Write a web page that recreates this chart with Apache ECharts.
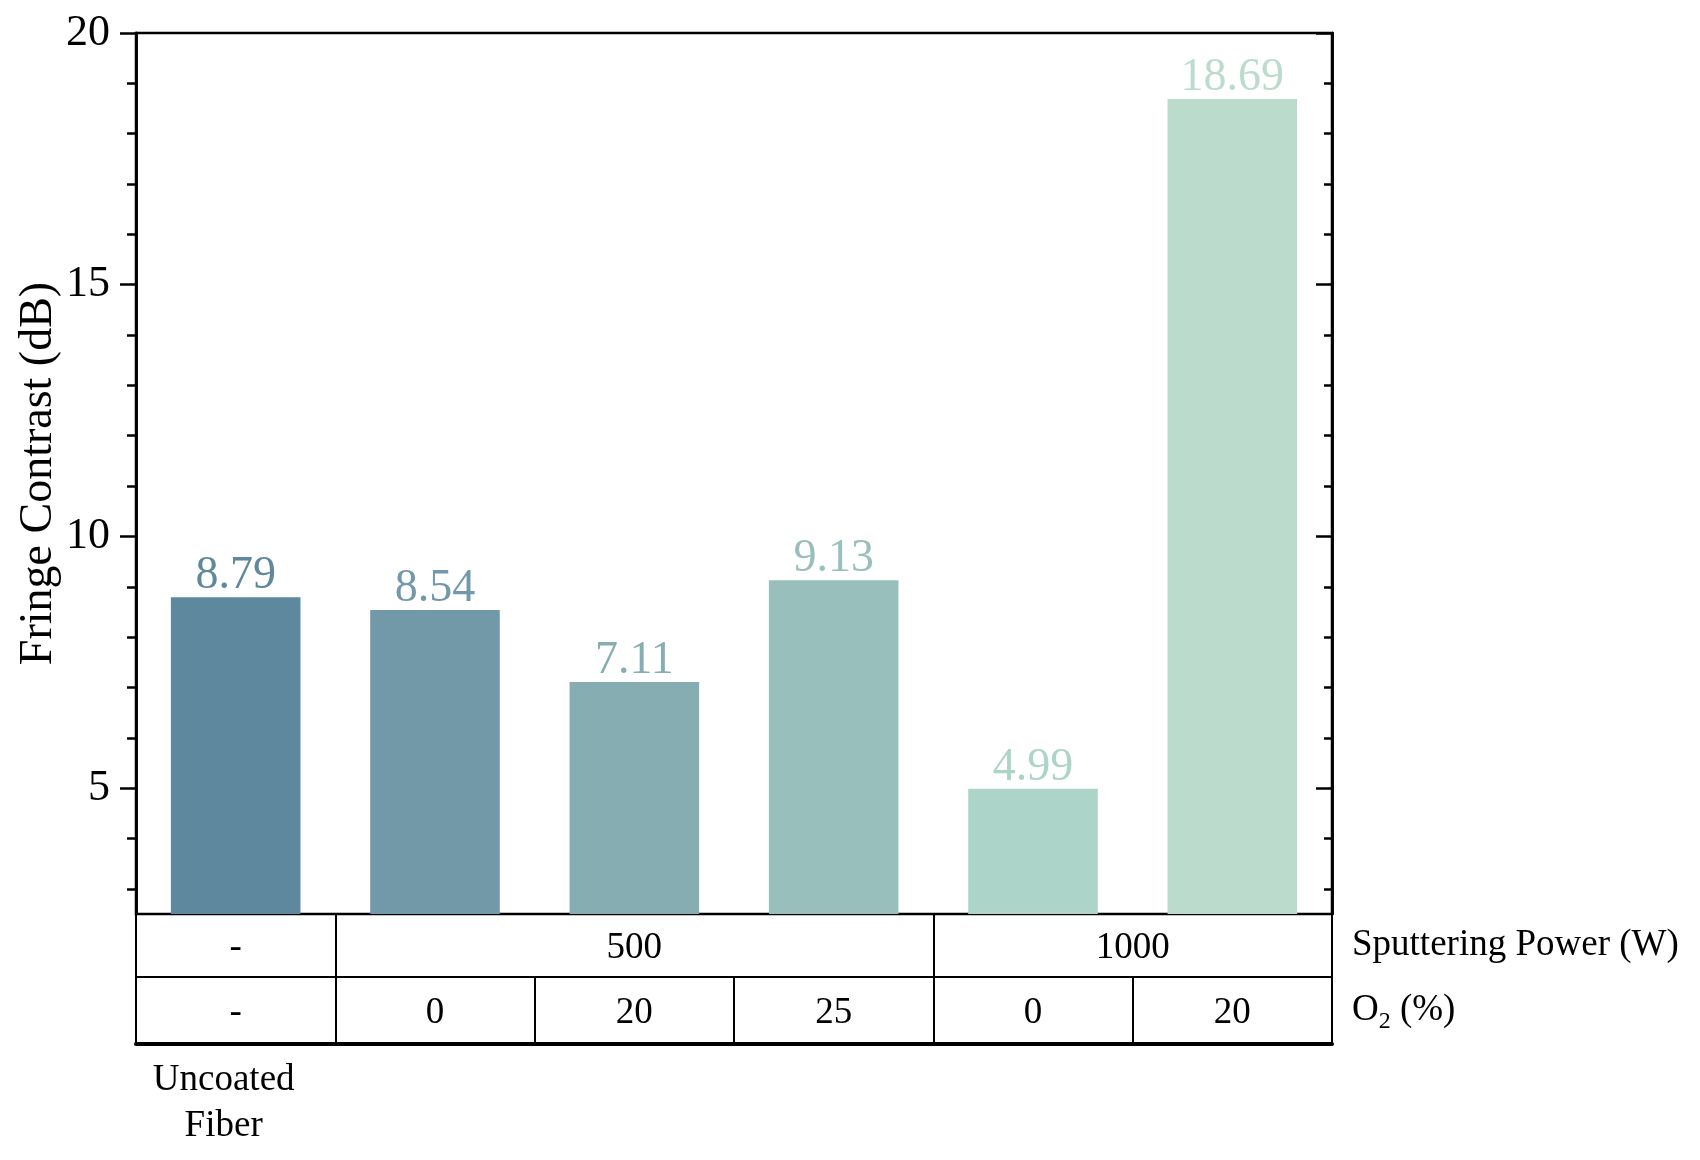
<!DOCTYPE html>
<html>
<head>
<meta charset="utf-8">
<script src="https://cdn.jsdelivr.net/npm/echarts@6/dist/echarts.min.js"></script>
<style>
  html, body { margin: 0; padding: 0; background: #fff; }
  #chart { width: 1700px; height: 1160px; }
</style>
</head>
<body>
<div id="chart"></div>
<script>
// ---- data ----
const categories = ['Uncoated Fiber', '500 W / 0 %', '500 W / 20 %', '500 W / 25 %', '1000 W / 0 %', '1000 W / 20 %'];
const xTickLabels = ['Uncoated\nFiber', '', '', '', '', ''];
const fringeContrast = [8.79, 8.54, 7.11, 9.13, 4.99, 18.69];
const barColors = ['#5e889d', '#7199a8', '#86adb1', '#99bfbc', '#add4c8', '#bbdccd'];
const powerLabels = ['-', '500', '1000'];
const powerSpans = [1, 3, 2];
const o2Labels = ['-', '0', '20', '25', '0', '20'];
const o2Spans = [1, 1, 1, 1, 1, 1];
const yMajorTicks = [5, 10, 15, 20];
const yMinorTicks = [3, 4, 6, 7, 8, 9, 11, 12, 13, 14, 16, 17, 18, 19];
const yMin = 2.5, yMax = 20;

const FONT = "'Liberation Serif', 'Times New Roman', serif";

function cells(labels, spans) {
  const bounds = [0], centers = [], map = {};
  let acc = 0;
  spans.forEach((s, i) => {
    const c = acc + s / 2;
    centers.push(c);
    map[c] = labels[i];
    acc += s;
    bounds.push(acc);
  });
  return { bounds, centers, map };
}
const powerCells = cells(powerLabels, powerSpans);
const o2Cells = cells(o2Labels, o2Spans);

const chart = echarts.init(document.getElementById('chart'), null, { renderer: 'canvas' });

function tableAxis(c, offset, tickLen, labelMargin, name, lineWidth, rich) {
  return {
    type: 'value', position: 'bottom', offset: offset,
    min: 0, max: categories.length,
    axisLine: { show: true, onZero: false, lineStyle: { color: '#000', width: lineWidth } },
    axisTick: { show: true, inside: true, length: tickLen, customValues: c.bounds,
                lineStyle: { color: '#000', width: 2 } },
    axisLabel: { show: true, inside: true, margin: labelMargin, customValues: c.centers,
                 formatter: v => c.map[v], color: '#000', fontFamily: FONT, fontSize: 37 },
    splitLine: { show: false },
    name: name, nameLocation: 'end', nameGap: 20, nameMoveOverlap: false,
    nameTextStyle: { color: '#000', fontFamily: FONT, fontSize: 37, align: 'left',
                     verticalAlign: 'middle', padding: [0, 0, tickLen, 0], rich: rich }
  };
}

function yAxisDef(pos, ticks, len, inside, labels, name) {
  return {
    type: 'value', position: pos, min: yMin, max: yMax,
    axisLine: { show: true, onZero: false, lineStyle: { color: '#000', width: 2.5 } },
    axisTick: { show: true, inside: inside, length: len, customValues: ticks,
                lineStyle: { color: '#000', width: 2.5 } },
    axisLabel: labels ? { show: true, customValues: yMajorTicks, margin: 26,
                          color: '#000', fontFamily: FONT, fontSize: 44 } : { show: false },
    splitLine: { show: false },
    name: name || '', nameLocation: 'middle', nameGap: 74, nameMoveOverlap: false,
    nameTextStyle: { color: '#000', fontFamily: FONT, fontSize: 46 }
  };
}

const option = {
  backgroundColor: '#fff',
  animation: false,
  grid: { left: 136, right: 368, top: 33, bottom: 246, containLabel: false,
          show: true, borderColor: '#000', borderWidth: 2.5 },
  xAxis: [
    {
      type: 'category', data: categories, position: 'bottom',
      axisLine: { show: true, lineStyle: { color: '#000', width: 2 } },
      axisTick: { show: false },
      axisLabel: { interval: 0, margin: 143, formatter: (v, i) => xTickLabels[i],
                   color: '#000', fontFamily: FONT, fontSize: 37, lineHeight: 46,
                   padding: [0, 24, 0, 0] }
    },
    tableAxis(powerCells, 63, 63, 10, 'Sputtering Power (W)', 2,
              { n: { fontFamily: FONT, fontSize: 37, color: '#000' } }),
    tableAxis(o2Cells, 130, 67, 12, 'O{sub|2} (%)', 4,
              { sub: { fontFamily: FONT, fontSize: 24, padding: [22, 0, 0, 0], color: '#000' } })
  ],
  yAxis: [
    yAxisDef('left', yMajorTicks, 16, false, true, 'Fringe Contrast (dB)'),
    yAxisDef('left', yMinorTicks, 9, false, false),
    yAxisDef('right', yMajorTicks, 16, true, false),
    yAxisDef('right', yMinorTicks, 8, true, false)
  ],
  series: [{
    type: 'bar', xAxisIndex: 0, yAxisIndex: 0, barWidth: '65%',
    data: fringeContrast.map((v, i) => ({
      value: v,
      itemStyle: { color: barColors[i] },
      label: { color: barColors[i] }
    })),
    label: { show: true, position: 'top', distance: -2,
             fontFamily: FONT, fontSize: 46, formatter: p => p.value.toFixed(2) }
  }]
};
chart.setOption(option);
</script>
</body>
</html>
